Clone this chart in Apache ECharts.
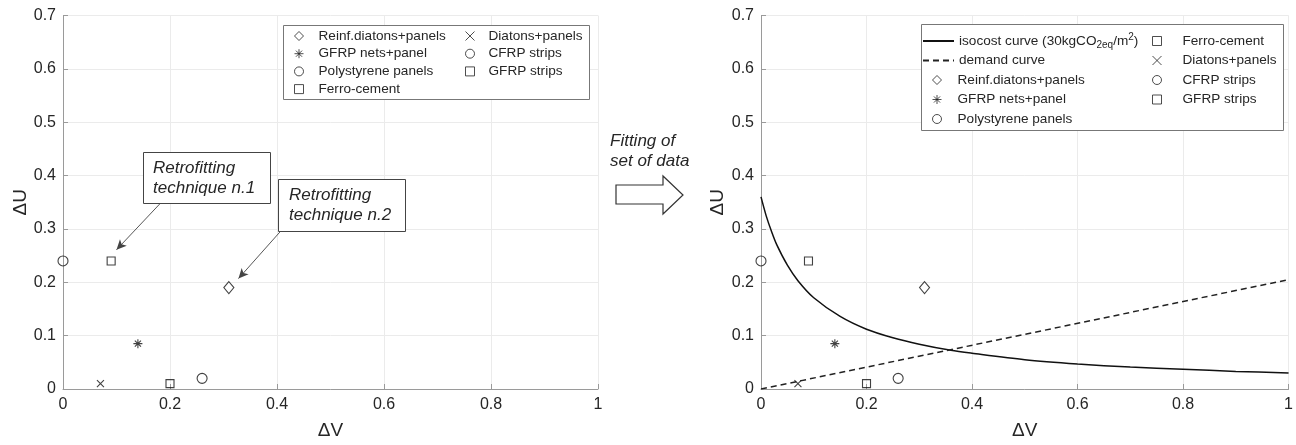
<!DOCTYPE html>
<html><head><meta charset="utf-8">
<script src="https://cdn.jsdelivr.net/npm/echarts@6/dist/echarts.min.js"></script>
<style>html,body{margin:0;padding:0;background:#fff}#c{width:1296px;height:445px}</style>
</head><body><div id="c"></div><script>
// ---- data ----
const techniques = ['Reinf.diatons+panels', 'Diatons+panels', 'GFRP nets+panel', 'CFRP strips', 'Polystyrene panels', 'GFRP strips', 'Ferro-cement'];
const deltaV = [0.31, 0.07, 0.14, 0.26, 0.00, 0.20, 0.09];
const deltaU = [0.19, 0.01, 0.085, 0.02, 0.24, 0.01, 0.24];
const isocostV = [0, 0.01, 0.02, 0.03, 0.05, 0.07, 0.1, 0.15, 0.2, 0.25, 0.3, 0.36, 0.4, 0.5, 0.6, 0.7, 0.8, 0.9, 1.0];
const isocostU = [0.36, 0.324, 0.295, 0.270, 0.232, 0.203, 0.171, 0.136, 0.112, 0.096, 0.084, 0.0725, 0.067, 0.055, 0.047, 0.041, 0.037, 0.033, 0.030];
const demandV = [0, 1];
const demandU = [0, 0.205];
const xRange = [0, 1, 0.2];
const yRange = [0, 0.7, 0.1];
const annotations = [
  {tail: [0.181, 0.347], tip: [0.10, 0.261]},
  {tail: [0.407, 0.296], tip: [0.328, 0.207]}
];

const FONT = '"Liberation Sans", Arial, sans-serif';
const INK = '#262626';
const AX = '#9a9a9a';
const asterisk = 'path://M5,0L5,10M0,5L10,5M1.6,1.6L8.4,8.4M8.4,1.6L1.6,8.4';
const cross = 'path://M0,0L10,10M10,0L0,10';
const markers = {
  'Reinf.diatons+panels': {symbol: 'diamond', size: [10, 12]},
  'Diatons+panels': {symbol: cross, size: 7},
  'GFRP nets+panel': {symbol: asterisk, size: 9},
  'CFRP strips': {symbol: 'circle', size: 10},
  'Polystyrene panels': {symbol: 'circle', size: 10},
  'GFRP strips': {symbol: 'rect', size: 8},
  'Ferro-cement': {symbol: 'rect', size: 8}
};

function axisX(gi) {
  return {
    type: 'value', gridIndex: gi, min: xRange[0], max: xRange[1], interval: xRange[2],
    name: 'ΔV', nameLocation: 'middle', nameGap: 32,
    nameTextStyle: {fontFamily: FONT, fontSize: 19, color: INK},
    axisLine: {show: true, onZero: false, lineStyle: {color: AX, width: 1}},
    axisTick: {show: true, inside: true, length: 5, lineStyle: {color: AX}},
    axisLabel: {fontFamily: FONT, fontSize: 16, color: INK, margin: 8},
    splitLine: {show: true, lineStyle: {color: '#ebebeb', width: 1}}
  };
}
function axisY(gi, gap) {
  return {
    type: 'value', gridIndex: gi, min: yRange[0], max: yRange[1], interval: yRange[2],
    name: 'ΔU', nameLocation: 'middle', nameGap: gap, nameRotate: 90,
    nameTextStyle: {fontFamily: FONT, fontSize: 19, color: INK},
    axisLine: {show: true, onZero: false, lineStyle: {color: AX, width: 1}},
    axisTick: {show: true, inside: true, length: 5, lineStyle: {color: AX}},
    axisLabel: {fontFamily: FONT, fontSize: 16, color: INK, margin: 7},
    splitLine: {show: true, lineStyle: {color: '#ebebeb', width: 1}}
  };
}

const series = [];
[0, 1].forEach(gi => {
  techniques.forEach((name, i) => {
    const m = markers[name];
    const s = {
      type: 'scatter', name, xAxisIndex: gi, yAxisIndex: gi,
      symbol: m.symbol, symbolSize: m.size,
      itemStyle: {color: 'rgba(255,255,255,0)', borderColor: '#111', borderWidth: 1.1},
      emphasis: {disabled: true},
      data: [[deltaV[i], deltaU[i]]], z: 5
    };
    if (gi === 0 && i === 0) {
      s.markLine = {
        silent: true, symbol: ['none', 'arrow'], symbolSize: [7, 10],
        label: {show: false},
        lineStyle: {color: '#444', width: 0.9, type: 'solid'},
        data: annotations.map(a => [{coord: a.tail}, {coord: a.tip}])
      };
    }
    series.push(s);
  });
});
series.push({
  type: 'line', name: 'isocost curve', xAxisIndex: 1, yAxisIndex: 1, smooth: 0.3,
  symbol: 'none', lineStyle: {color: '#111', width: 1.5}, itemStyle: {color: '#111'},
  data: isocostV.map((v, i) => [v, isocostU[i]]), z: 4
});
series.push({
  type: 'line', name: 'demand curve', xAxisIndex: 1, yAxisIndex: 1,
  symbol: 'none', lineStyle: {color: '#222', width: 1.5, type: [6, 4]}, itemStyle: {color: '#222'},
  data: demandV.map((v, i) => [v, demandU[i]]), z: 4
});

const FS = 13.6;
const legendText = {fontFamily: FONT, fontSize: FS, color: INK};
function markerLegend(left, top, names, lh, gap, pad) {
  return {
    orient: 'vertical', left, top, padding: 0, itemWidth: 9, itemHeight: 9, itemGap: gap,
    selectedMode: false, data: names, z: 10, symbolKeepAspect: true,
    itemStyle: {color: 'rgba(255,255,255,0)', borderColor: '#222', borderWidth: 1},
    textStyle: Object.assign({}, legendText, {lineHeight: lh, padding: [0, 0, 0, pad]})
  };
}
const richRow = 19.5;
const legends = [
  markerLegend(294, 28, ['Reinf.diatons+panels', 'GFRP nets+panel', 'Polystyrene panels', 'Ferro-cement'], 16, 1.7, 10),
  markerLegend(465, 28, ['Diatons+panels', 'CFRP strips', 'GFRP strips'], 16, 1.7, 9),
  {
    orient: 'vertical', left: 922, top: 41 - richRow / 2, padding: 0, itemWidth: 31, itemHeight: 10, itemGap: 0,
    selectedMode: false, data: ['isocost curve', 'demand curve'], z: 10,
    itemStyle: {color: 'rgba(0,0,0,0)', borderWidth: 0, opacity: 0},
    formatter: n => n === 'isocost curve'
      ? '{a|isocost curve (30kgCO}{sub|2eq}{a|/m}{sup|2}{a|)}' : n,
    textStyle: Object.assign({}, legendText, {
      lineHeight: richRow,
      rich: {
        a: {fontFamily: FONT, fontSize: FS, color: INK, lineHeight: richRow},
        sub: {fontFamily: FONT, fontSize: 10, color: INK, padding: [8, 0, 0, 0]},
        sup: {fontFamily: FONT, fontSize: 10, color: INK, padding: [0, 0, 8, 0]}
      }
    })
  },
  markerLegend(932, 80 - richRow / 2, ['Reinf.diatons+panels', 'GFRP nets+panel', 'Polystyrene panels'], richRow, 0, 11),
  markerLegend(1152, 41 - richRow / 2, ['Ferro-cement', 'Diatons+panels', 'CFRP strips', 'GFRP strips'], richRow, 0, 16)
];

const italic = {fontFamily: FONT, fontSize: 17, fontStyle: 'italic', fill: INK};
const graphic = [
  {type: 'rect', shape: {x: 283.5, y: 25.5, width: 306, height: 74}, style: {fill: '#fff', stroke: '#777', lineWidth: 1}, z: 3},
  {type: 'rect', shape: {x: 921.5, y: 24.5, width: 362, height: 106}, style: {fill: '#fff', stroke: '#777', lineWidth: 1}, z: 3},
  {type: 'rect', shape: {x: 143.5, y: 152.5, width: 127, height: 51}, style: {fill: '#fff', stroke: '#444', lineWidth: 1}, z: 6},
  {type: 'text', x: 153, y: 158, style: Object.assign({text: 'Retrofitting\ntechnique n.1', lineHeight: 20}, italic), z: 7},
  {type: 'rect', shape: {x: 278.5, y: 179.5, width: 127, height: 52}, style: {fill: '#fff', stroke: '#444', lineWidth: 1}, z: 6},
  {type: 'text', x: 289, y: 185, style: Object.assign({text: 'Retrofitting\ntechnique n.2', lineHeight: 20}, italic), z: 7},
  {type: 'text', x: 610, y: 131, style: Object.assign({text: 'Fitting of\nset of data', lineHeight: 20}, italic), z: 7},
  {type: 'polygon', shape: {points: [[616, 185], [663, 185], [663, 176], [683, 195], [663, 214], [663, 204], [616, 204]]},
    style: {fill: '#fff', stroke: '#333', lineWidth: 1.2}, z: 7}
];

const chart = echarts.init(document.getElementById('c'), null, {renderer: 'canvas'});
chart.setOption({
  animation: false,
  backgroundColor: '#fff',
  grid: [
    {left: 63, right: 1296 - 598, top: 15.5, bottom: 445 - 391, containLabel: false},
    {left: 761, right: 1296 - 1290, top: 15.5, bottom: 445 - 391, containLabel: false}
  ],
  xAxis: [axisX(0), axisX(1)],
  yAxis: [axisY(0, 31), axisY(1, 34)],
  legend: legends,
  graphic,
  series
});
</script></body></html>
